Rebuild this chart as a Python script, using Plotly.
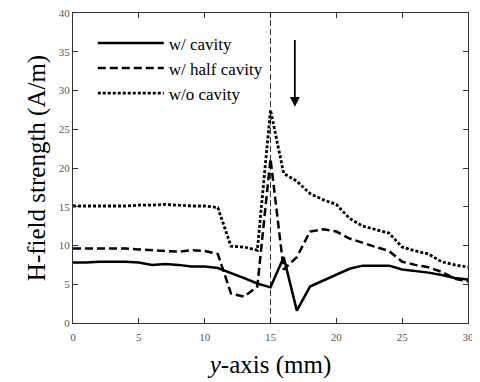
import plotly.graph_objects as go

x = list(range(0, 31))
w_cavity = [7.8, 7.8, 7.9, 7.9, 7.9, 7.8, 7.5, 7.6, 7.5, 7.3, 7.3, 7.1, 6.5, 5.8, 5.1, 4.6,
            8.5, 1.6, 4.7, 5.5, 6.2, 7.0, 7.4, 7.4, 7.4, 6.9, 6.7, 6.5, 6.2, 5.8, 5.6]
half_cavity = [9.6, 9.6, 9.6, 9.6, 9.6, 9.5, 9.4, 9.3, 9.2, 9.4, 9.3, 8.9, 3.8, 3.4, 4.7, 21.2,
               6.9, 8.5, 11.8, 12.1, 11.8, 10.9, 10.3, 9.8, 9.3, 7.9, 7.5, 7.2, 6.6, 5.7, 5.4]
wo_cavity = [15.1, 15.1, 15.1, 15.1, 15.1, 15.2, 15.2, 15.3, 15.2, 15.1, 15.1, 14.9, 9.9, 9.8, 9.4, 27.5,
             19.3, 18.3, 16.7, 15.9, 15.3, 13.5, 12.5, 12.1, 11.6, 9.8, 9.3, 8.9, 7.9, 7.5, 7.2]
names = ["w/ cavity", "w/ half cavity", "w/o cavity"]
x_ticks = [0, 5, 10, 15, 20, 25, 30]
y_ticks = [0, 5, 10, 15, 20, 25, 30, 35, 40]
marker_x = 15
arrow_x = 16.85
arrow_y = [36.7, 27.9]

fig = go.Figure()
fig.add_trace(go.Scatter(x=x, y=w_cavity, name=names[0], mode="lines",
                         line=dict(color="black", width=2.5)))
fig.add_trace(go.Scatter(x=x, y=half_cavity, name=names[1], mode="lines",
                         line=dict(color="black", width=2.5, dash="8px,4px")))
fig.add_trace(go.Scatter(x=x, y=wo_cavity, name=names[2], mode="lines",
                         line=dict(color="black", width=2.8, dash="3px,2px")))

fig.add_shape(type="line", x0=marker_x, x1=marker_x, y0=0, y1=40, xref="x", yref="y",
              line=dict(color="black", width=0.8, dash="6px,3px"))
fig.add_annotation(x=arrow_x, y=arrow_y[1], ax=arrow_x, ay=arrow_y[0], xref="x", yref="y",
                   axref="x", ayref="y", showarrow=True, arrowhead=2, arrowsize=1.1,
                   arrowwidth=1.8, arrowcolor="black", text="")

serif = "Liberation Serif"
axis_common = dict(showline=True, linecolor="#333", linewidth=1, mirror="ticks",
                   ticks="inside", ticklen=5, tickcolor="#333", showgrid=False,
                   zeroline=False, automargin=False, ticklabeloverflow="allow",
                   tickfont=dict(family=serif, size=11, color="#555"))
fig.update_xaxes(range=[0, 30], tickvals=x_ticks, ticklabelstandoff=4,
                 title=dict(text="<i>y</i>-axis (mm)", font=dict(family=serif, size=25, color="black"), standoff=13),
                 **axis_common)
fig.update_yaxes(range=[0, 40], tickvals=y_ticks,
                 title=dict(text="H-field strength (A/m)", font=dict(family=serif, size=25, color="black"), standoff=6),
                 **axis_common)

fig.update_layout(
    width=472, height=374,
    margin=dict(l=65, r=12, t=5, b=59),
    paper_bgcolor="white", plot_bgcolor="white",
    showlegend=True,
    font=dict(family=serif),
    legend=dict(x=0.05, y=0.96, xanchor="left", yanchor="top", bgcolor="rgba(0,0,0,0)",
                font=dict(family=serif, size=17, color="black"), itemwidth=66,
                tracegroupgap=0),
)
fig.write_html("out.html")
